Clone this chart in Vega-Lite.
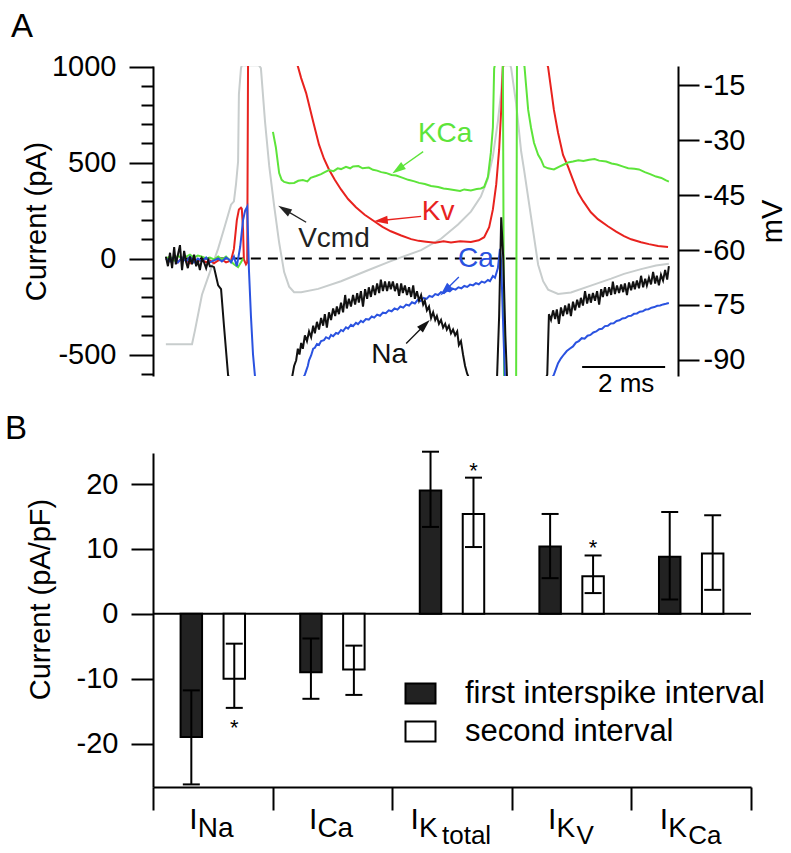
{
"$schema": "https://vega.github.io/schema/vega-lite/v6.json",
"padding": {"left": 5, "top": 10, "right": 5, "bottom": 5},
"bounds": "flush",
"spacing": 77,
"config": {
  "font": "Liberation Sans",
  "view": {"stroke": null},
  "axis": {"domainColor": "black", "domainWidth": 2, "tickColor": "black", "tickWidth": 2, "labelColor": "black", "titleColor": "black", "labelFontSize": 29, "titleFontSize": 29, "titleFontWeight": "normal", "grid": false, "labelOverlap": false, "labelFlush": false}
},
"datasets": {
  "tr": [
{"s":"Kv","g":1,"t":0.31,"v":0},{"s":"Kv","g":1,"t":0.41,"v":-15},{"s":"Kv","g":1,"t":0.51,"v":10},{"s":"Kv","g":1,"t":0.60,"v":-20},{"s":"Kv","g":1,"t":0.70,"v":5},{"s":"Kv","g":1,"t":0.80,"v":-10},{"s":"Kv","g":1,"t":0.89,"v":-25},{"s":"Kv","g":1,"t":0.99,"v":0},{"s":"Kv","g":1,"t":1.08,"v":-15},{"s":"Kv","g":1,"t":1.18,"v":-5},{"s":"Kv","g":1,"t":1.28,"v":-20},{"s":"Kv","g":1,"t":1.37,"v":-10},{"s":"Kv","g":1,"t":1.47,"v":-25},{"s":"Kv","g":1,"t":1.57,"v":-10},{"s":"Kv","g":1,"t":1.66,"v":-5},{"s":"Kv","g":1,"t":1.76,"v":-20},{"s":"Kv","g":1,"t":1.88,"v":-10},{"s":"Kv","g":1,"t":1.95,"v":50},{"s":"Kv","g":1,"t":2.02,"v":200},{"s":"Kv","g":1,"t":2.07,"v":255},{"s":"Kv","g":1,"t":2.12,"v":265},{"s":"Kv","g":1,"t":2.14,"v":260},{"s":"Kv","g":1,"t":2.17,"v":150},{"s":"Kv","g":1,"t":2.19,"v":-5},{"s":"Kv","g":1,"t":2.24,"v":-30},{"s":"Kv","g":1,"t":2.27,"v":-20},{"s":"Kv","g":1,"t":2.29,"v":1010},{"s":"Kv","g":1,"t":3.47,"v":1010},{"s":"Kv","g":1,"t":3.49,"v":1002},{"s":"Kv","g":1,"t":3.57,"v":940},{"s":"Kv","g":1,"t":3.69,"v":862},{"s":"Kv","g":1,"t":3.86,"v":712},{"s":"Kv","g":1,"t":4.00,"v":593},{"s":"Kv","g":1,"t":4.12,"v":520},{"s":"Kv","g":1,"t":4.24,"v":464},{"s":"Kv","g":1,"t":4.38,"v":410},{"s":"Kv","g":1,"t":4.53,"v":360},{"s":"Kv","g":1,"t":4.70,"v":310},{"s":"Kv","g":1,"t":4.89,"v":267},{"s":"Kv","g":1,"t":5.10,"v":228},{"s":"Kv","g":1,"t":5.33,"v":194},{"s":"Kv","g":1,"t":5.53,"v":165},{"s":"Kv","g":1,"t":5.73,"v":142},{"s":"Kv","g":1,"t":5.98,"v":120},{"s":"Kv","g":1,"t":6.22,"v":101},{"s":"Kv","g":1,"t":6.40,"v":92},{"s":"Kv","g":1,"t":6.58,"v":88},{"s":"Kv","g":1,"t":6.80,"v":82},{"s":"Kv","g":1,"t":7.00,"v":90},{"s":"Kv","g":1,"t":7.18,"v":84},{"s":"Kv","g":1,"t":7.40,"v":90},{"s":"Kv","g":1,"t":7.66,"v":86},{"s":"Kv","g":1,"t":7.85,"v":95},{"s":"Kv","g":1,"t":7.98,"v":111},{"s":"Kv","g":1,"t":8.10,"v":163},{"s":"Kv","g":1,"t":8.19,"v":256},{"s":"Kv","g":1,"t":8.27,"v":386},{"s":"Kv","g":1,"t":8.34,"v":567},{"s":"Kv","g":1,"t":8.39,"v":774},{"s":"Kv","g":1,"t":8.43,"v":1002},{"s":"Kv","g":1,"t":8.48,"v":1010},{"s":"Kv","g":1,"t":9.50,"v":1010},{"s":"Kv","g":1,"t":9.52,"v":997},{"s":"Kv","g":1,"t":9.66,"v":774},{"s":"Kv","g":1,"t":9.76,"v":655},{"s":"Kv","g":1,"t":9.88,"v":540},{"s":"Kv","g":1,"t":10.00,"v":479},{"s":"Kv","g":1,"t":10.12,"v":410},{"s":"Kv","g":1,"t":10.24,"v":344},{"s":"Kv","g":1,"t":10.36,"v":300},{"s":"Kv","g":1,"t":10.55,"v":241},{"s":"Kv","g":1,"t":10.72,"v":205},{"s":"Kv","g":1,"t":10.96,"v":168},{"s":"Kv","g":1,"t":11.16,"v":140},{"s":"Kv","g":1,"t":11.35,"v":117},{"s":"Kv","g":1,"t":11.52,"v":100},{"s":"Kv","g":1,"t":11.76,"v":85},{"s":"Kv","g":1,"t":11.95,"v":75},{"s":"Kv","g":1,"t":12.17,"v":65},{"s":"Kv","g":1,"t":12.41,"v":60},
{"s":"KCa","g":1,"t":0.31,"v":0},{"s":"KCa","g":1,"t":0.41,"v":10},{"s":"KCa","g":1,"t":0.51,"v":-10},{"s":"KCa","g":1,"t":0.60,"v":15},{"s":"KCa","g":1,"t":0.70,"v":0},{"s":"KCa","g":1,"t":0.80,"v":10},{"s":"KCa","g":1,"t":0.89,"v":20},{"s":"KCa","g":1,"t":0.99,"v":5},{"s":"KCa","g":1,"t":1.08,"v":15},{"s":"KCa","g":1,"t":1.18,"v":10},{"s":"KCa","g":1,"t":1.28,"v":0},{"s":"KCa","g":1,"t":1.37,"v":5},{"s":"KCa","g":1,"t":1.47,"v":-5},{"s":"KCa","g":1,"t":1.57,"v":10},{"s":"KCa","g":1,"t":1.66,"v":-5},{"s":"KCa","g":1,"t":1.76,"v":10},{"s":"KCa","g":1,"t":1.83,"v":-5},{"s":"KCa","g":1,"t":1.95,"v":-30},{"s":"KCa","g":1,"t":2.05,"v":-45},{"s":"KCa","g":1,"t":2.12,"v":-20},{"s":"KCa","g":1,"t":2.17,"v":0},
{"s":"KCa","g":2,"t":2.89,"v":660},{"s":"KCa","g":2,"t":2.96,"v":580},{"s":"KCa","g":2,"t":3.04,"v":445},{"s":"KCa","g":2,"t":3.10,"v":410},{"s":"KCa","g":2,"t":3.16,"v":399},{"s":"KCa","g":2,"t":3.28,"v":392},{"s":"KCa","g":2,"t":3.40,"v":394},{"s":"KCa","g":2,"t":3.50,"v":405},{"s":"KCa","g":2,"t":3.61,"v":409},{"s":"KCa","g":2,"t":3.72,"v":402},{"s":"KCa","g":2,"t":3.80,"v":420},{"s":"KCa","g":2,"t":3.93,"v":430},{"s":"KCa","g":2,"t":4.05,"v":440},{"s":"KCa","g":2,"t":4.14,"v":450},{"s":"KCa","g":2,"t":4.24,"v":461},{"s":"KCa","g":2,"t":4.35,"v":455},{"s":"KCa","g":2,"t":4.45,"v":470},{"s":"KCa","g":2,"t":4.53,"v":466},{"s":"KCa","g":2,"t":4.65,"v":478},{"s":"KCa","g":2,"t":4.75,"v":470},{"s":"KCa","g":2,"t":4.82,"v":480},{"s":"KCa","g":2,"t":4.95,"v":482},{"s":"KCa","g":2,"t":5.05,"v":470},{"s":"KCa","g":2,"t":5.20,"v":474},{"s":"KCa","g":2,"t":5.30,"v":462},{"s":"KCa","g":2,"t":5.40,"v":458},{"s":"KCa","g":2,"t":5.50,"v":450},{"s":"KCa","g":2,"t":5.61,"v":446},{"s":"KCa","g":2,"t":5.75,"v":435},{"s":"KCa","g":2,"t":5.86,"v":432},{"s":"KCa","g":2,"t":6.02,"v":420},{"s":"KCa","g":2,"t":6.15,"v":410},{"s":"KCa","g":2,"t":6.30,"v":402},{"s":"KCa","g":2,"t":6.41,"v":394},{"s":"KCa","g":2,"t":6.55,"v":388},{"s":"KCa","g":2,"t":6.70,"v":378},{"s":"KCa","g":2,"t":6.87,"v":373},{"s":"KCa","g":2,"t":7.00,"v":365},{"s":"KCa","g":2,"t":7.10,"v":362},{"s":"KCa","g":2,"t":7.25,"v":357},{"s":"KCa","g":2,"t":7.40,"v":352},{"s":"KCa","g":2,"t":7.50,"v":360},{"s":"KCa","g":2,"t":7.66,"v":355},{"s":"KCa","g":2,"t":7.80,"v":362},{"s":"KCa","g":2,"t":7.90,"v":365},{"s":"KCa","g":2,"t":7.98,"v":373},{"s":"KCa","g":2,"t":8.07,"v":425},{"s":"KCa","g":2,"t":8.14,"v":550},{"s":"KCa","g":2,"t":8.19,"v":684},{"s":"KCa","g":2,"t":8.22,"v":990},{"s":"KCa","g":2,"t":8.24,"v":1010},{"s":"KCa","g":2,"t":8.43,"v":1010},{"s":"KCa","g":2,"t":8.46,"v":-620},{"s":"KCa","g":2,"t":8.75,"v":-620},{"s":"KCa","g":2,"t":8.77,"v":1010},{"s":"KCa","g":2,"t":8.92,"v":1010},{"s":"KCa","g":2,"t":8.95,"v":1003},{"s":"KCa","g":2,"t":8.99,"v":900},{"s":"KCa","g":2,"t":9.04,"v":774},{"s":"KCa","g":2,"t":9.11,"v":680},{"s":"KCa","g":2,"t":9.18,"v":603},{"s":"KCa","g":2,"t":9.28,"v":540},{"s":"KCa","g":2,"t":9.35,"v":515},{"s":"KCa","g":2,"t":9.42,"v":479},{"s":"KCa","g":2,"t":9.52,"v":470},{"s":"KCa","g":2,"t":9.66,"v":464},{"s":"KCa","g":2,"t":9.78,"v":478},{"s":"KCa","g":2,"t":9.90,"v":490},{"s":"KCa","g":2,"t":10.00,"v":500},{"s":"KCa","g":2,"t":10.12,"v":505},{"s":"KCa","g":2,"t":10.25,"v":512},{"s":"KCa","g":2,"t":10.37,"v":508},{"s":"KCa","g":2,"t":10.51,"v":515},{"s":"KCa","g":2,"t":10.64,"v":518},{"s":"KCa","g":2,"t":10.75,"v":510},{"s":"KCa","g":2,"t":10.92,"v":505},{"s":"KCa","g":2,"t":11.05,"v":495},{"s":"KCa","g":2,"t":11.18,"v":490},{"s":"KCa","g":2,"t":11.33,"v":479},{"s":"KCa","g":2,"t":11.45,"v":470},{"s":"KCa","g":2,"t":11.60,"v":468},{"s":"KCa","g":2,"t":11.71,"v":464},{"s":"KCa","g":2,"t":11.85,"v":450},{"s":"KCa","g":2,"t":11.98,"v":440},{"s":"KCa","g":2,"t":12.12,"v":427},{"s":"KCa","g":2,"t":12.25,"v":420},{"s":"KCa","g":2,"t":12.35,"v":408},{"s":"KCa","g":2,"t":12.43,"v":401},
{"s":"Ca","g":1,"t":0.31,"v":0},{"s":"Ca","g":1,"t":0.41,"v":-15},{"s":"Ca","g":1,"t":0.51,"v":10},{"s":"Ca","g":1,"t":0.60,"v":-20},{"s":"Ca","g":1,"t":0.70,"v":5},{"s":"Ca","g":1,"t":0.80,"v":-15},{"s":"Ca","g":1,"t":0.89,"v":10},{"s":"Ca","g":1,"t":0.99,"v":-20},{"s":"Ca","g":1,"t":1.08,"v":0},{"s":"Ca","g":1,"t":1.18,"v":-15},{"s":"Ca","g":1,"t":1.28,"v":5},{"s":"Ca","g":1,"t":1.37,"v":-20},{"s":"Ca","g":1,"t":1.47,"v":-10},{"s":"Ca","g":1,"t":1.57,"v":0},{"s":"Ca","g":1,"t":1.66,"v":-15},{"s":"Ca","g":1,"t":1.76,"v":5},{"s":"Ca","g":1,"t":1.83,"v":-5},{"s":"Ca","g":1,"t":1.88,"v":-20},{"s":"Ca","g":1,"t":1.95,"v":10},{"s":"Ca","g":1,"t":2.02,"v":-40},{"s":"Ca","g":1,"t":2.10,"v":60},{"s":"Ca","g":1,"t":2.17,"v":200},{"s":"Ca","g":1,"t":2.22,"v":250},{"s":"Ca","g":1,"t":2.27,"v":270},{"s":"Ca","g":1,"t":2.29,"v":120},{"s":"Ca","g":1,"t":2.31,"v":-50},{"s":"Ca","g":1,"t":2.36,"v":-300},{"s":"Ca","g":1,"t":2.41,"v":-500},{"s":"Ca","g":1,"t":2.46,"v":-620},{"s":"Ca","g":1,"t":3.62,"v":-620},{"s":"Ca","g":1,"t":3.66,"v":-605},{"s":"Ca","g":1,"t":3.69,"v":-585},{"s":"Ca","g":1,"t":3.73,"v":-560},{"s":"Ca","g":1,"t":3.76,"v":-530},{"s":"Ca","g":1,"t":3.81,"v":-505},{"s":"Ca","g":1,"t":3.86,"v":-470},{"s":"Ca","g":1,"t":3.90,"v":-465},{"s":"Ca","g":1,"t":3.95,"v":-445},{"s":"Ca","g":1,"t":4.00,"v":-450},{"s":"Ca","g":1,"t":4.05,"v":-430},{"s":"Ca","g":1,"t":4.12,"v":-425},{"s":"Ca","g":1,"t":4.17,"v":-410},{"s":"Ca","g":1,"t":4.24,"v":-418},{"s":"Ca","g":1,"t":4.29,"v":-398},{"s":"Ca","g":1,"t":4.34,"v":-405},{"s":"Ca","g":1,"t":4.41,"v":-388},{"s":"Ca","g":1,"t":4.46,"v":-392},{"s":"Ca","g":1,"t":4.53,"v":-372},{"s":"Ca","g":1,"t":4.58,"v":-378},{"s":"Ca","g":1,"t":4.65,"v":-358},{"s":"Ca","g":1,"t":4.70,"v":-365},{"s":"Ca","g":1,"t":4.77,"v":-345},{"s":"Ca","g":1,"t":4.82,"v":-352},{"s":"Ca","g":1,"t":4.89,"v":-335},{"s":"Ca","g":1,"t":4.94,"v":-342},{"s":"Ca","g":1,"t":5.01,"v":-325},{"s":"Ca","g":1,"t":5.06,"v":-332},{"s":"Ca","g":1,"t":5.13,"v":-315},{"s":"Ca","g":1,"t":5.20,"v":-318},{"s":"Ca","g":1,"t":5.27,"v":-302},{"s":"Ca","g":1,"t":5.33,"v":-308},{"s":"Ca","g":1,"t":5.40,"v":-292},{"s":"Ca","g":1,"t":5.47,"v":-298},{"s":"Ca","g":1,"t":5.54,"v":-282},{"s":"Ca","g":1,"t":5.61,"v":-285},{"s":"Ca","g":1,"t":5.68,"v":-270},{"s":"Ca","g":1,"t":5.75,"v":-275},{"s":"Ca","g":1,"t":5.82,"v":-260},{"s":"Ca","g":1,"t":5.89,"v":-266},{"s":"Ca","g":1,"t":5.96,"v":-250},{"s":"Ca","g":1,"t":6.03,"v":-256},{"s":"Ca","g":1,"t":6.10,"v":-240},{"s":"Ca","g":1,"t":6.17,"v":-245},{"s":"Ca","g":1,"t":6.24,"v":-228},{"s":"Ca","g":1,"t":6.31,"v":-234},{"s":"Ca","g":1,"t":6.38,"v":-215},{"s":"Ca","g":1,"t":6.45,"v":-222},{"s":"Ca","g":1,"t":6.52,"v":-205},{"s":"Ca","g":1,"t":6.59,"v":-210},{"s":"Ca","g":1,"t":6.66,"v":-195},{"s":"Ca","g":1,"t":6.73,"v":-200},{"s":"Ca","g":1,"t":6.80,"v":-185},{"s":"Ca","g":1,"t":6.87,"v":-190},{"s":"Ca","g":1,"t":6.94,"v":-175},{"s":"Ca","g":1,"t":7.01,"v":-180},{"s":"Ca","g":1,"t":7.08,"v":-165},{"s":"Ca","g":1,"t":7.15,"v":-171},{"s":"Ca","g":1,"t":7.22,"v":-157},{"s":"Ca","g":1,"t":7.29,"v":-162},{"s":"Ca","g":1,"t":7.36,"v":-150},{"s":"Ca","g":1,"t":7.43,"v":-155},{"s":"Ca","g":1,"t":7.50,"v":-143},{"s":"Ca","g":1,"t":7.57,"v":-148},{"s":"Ca","g":1,"t":7.64,"v":-136},{"s":"Ca","g":1,"t":7.71,"v":-140},{"s":"Ca","g":1,"t":7.78,"v":-128},{"s":"Ca","g":1,"t":7.85,"v":-134},{"s":"Ca","g":1,"t":7.92,"v":-120},{"s":"Ca","g":1,"t":7.99,"v":-126},{"s":"Ca","g":1,"t":8.07,"v":-112},{"s":"Ca","g":1,"t":8.12,"v":-118},{"s":"Ca","g":1,"t":8.19,"v":-91},{"s":"Ca","g":1,"t":8.24,"v":-100},{"s":"Ca","g":1,"t":8.31,"v":-50},{"s":"Ca","g":1,"t":8.36,"v":50},{"s":"Ca","g":1,"t":8.39,"v":-20},{"s":"Ca","g":1,"t":8.43,"v":-300},{"s":"Ca","g":1,"t":8.48,"v":-620},{"s":"Ca","g":1,"t":9.62,"v":-620},{"s":"Ca","g":1,"t":9.66,"v":-605},{"s":"Ca","g":1,"t":9.71,"v":-575},{"s":"Ca","g":1,"t":9.76,"v":-545},{"s":"Ca","g":1,"t":9.83,"v":-520},{"s":"Ca","g":1,"t":9.90,"v":-500},{"s":"Ca","g":1,"t":9.97,"v":-482},{"s":"Ca","g":1,"t":10.04,"v":-470},{"s":"Ca","g":1,"t":10.12,"v":-458},{"s":"Ca","g":1,"t":10.19,"v":-438},{"s":"Ca","g":1,"t":10.26,"v":-430},{"s":"Ca","g":1,"t":10.33,"v":-415},{"s":"Ca","g":1,"t":10.40,"v":-418},{"s":"Ca","g":1,"t":10.47,"v":-402},{"s":"Ca","g":1,"t":10.54,"v":-398},{"s":"Ca","g":1,"t":10.61,"v":-385},{"s":"Ca","g":1,"t":10.68,"v":-380},{"s":"Ca","g":1,"t":10.75,"v":-368},{"s":"Ca","g":1,"t":10.82,"v":-366},{"s":"Ca","g":1,"t":10.89,"v":-352},{"s":"Ca","g":1,"t":10.96,"v":-350},{"s":"Ca","g":1,"t":11.03,"v":-338},{"s":"Ca","g":1,"t":11.10,"v":-337},{"s":"Ca","g":1,"t":11.17,"v":-325},{"s":"Ca","g":1,"t":11.24,"v":-322},{"s":"Ca","g":1,"t":11.31,"v":-312},{"s":"Ca","g":1,"t":11.38,"v":-310},{"s":"Ca","g":1,"t":11.45,"v":-300},{"s":"Ca","g":1,"t":11.52,"v":-298},{"s":"Ca","g":1,"t":11.59,"v":-288},{"s":"Ca","g":1,"t":11.66,"v":-286},{"s":"Ca","g":1,"t":11.73,"v":-277},{"s":"Ca","g":1,"t":11.80,"v":-275},{"s":"Ca","g":1,"t":11.87,"v":-266},{"s":"Ca","g":1,"t":11.94,"v":-264},{"s":"Ca","g":1,"t":12.01,"v":-256},{"s":"Ca","g":1,"t":12.08,"v":-253},{"s":"Ca","g":1,"t":12.15,"v":-246},{"s":"Ca","g":1,"t":12.22,"v":-245},{"s":"Ca","g":1,"t":12.29,"v":-239},{"s":"Ca","g":1,"t":12.36,"v":-236},{"s":"Ca","g":1,"t":12.43,"v":-232},
{"s":"Na","g":1,"t":0.31,"v":10},{"s":"Na","g":1,"t":0.36,"v":-40},{"s":"Na","g":1,"t":0.41,"v":30},{"s":"Na","g":1,"t":0.46,"v":-50},{"s":"Na","g":1,"t":0.51,"v":60},{"s":"Na","g":1,"t":0.55,"v":-30},{"s":"Na","g":1,"t":0.60,"v":20},{"s":"Na","g":1,"t":0.65,"v":70},{"s":"Na","g":1,"t":0.70,"v":-60},{"s":"Na","g":1,"t":0.75,"v":40},{"s":"Na","g":1,"t":0.80,"v":-20},{"s":"Na","g":1,"t":0.84,"v":-50},{"s":"Na","g":1,"t":0.89,"v":10},{"s":"Na","g":1,"t":0.94,"v":-30},{"s":"Na","g":1,"t":0.99,"v":20},{"s":"Na","g":1,"t":1.04,"v":-40},{"s":"Na","g":1,"t":1.08,"v":-10},{"s":"Na","g":1,"t":1.13,"v":-60},{"s":"Na","g":1,"t":1.18,"v":0},{"s":"Na","g":1,"t":1.23,"v":-20},{"s":"Na","g":1,"t":1.28,"v":-50},{"s":"Na","g":1,"t":1.33,"v":-10},{"s":"Na","g":1,"t":1.37,"v":-40},{"s":"Na","g":1,"t":1.42,"v":-40},{"s":"Na","g":1,"t":1.47,"v":-45},{"s":"Na","g":1,"t":1.57,"v":-140},{"s":"Na","g":1,"t":1.64,"v":-160},{"s":"Na","g":1,"t":1.71,"v":-350},{"s":"Na","g":1,"t":1.81,"v":-610},{"s":"Na","g":1,"t":1.85,"v":-620},
{"s":"Na","g":1,"t":3.35,"v":-620},{"s":"Na","g":1,"t":3.40,"v":-560},{"s":"Na","g":1,"t":3.45,"v":-530},{"s":"Na","g":1,"t":3.49,"v":-470},{"s":"Na","g":1,"t":3.53,"v":-500},{"s":"Na","g":1,"t":3.57,"v":-440},{"s":"Na","g":1,"t":3.61,"v":-470},{"s":"Na","g":1,"t":3.66,"v":-400},{"s":"Na","g":1,"t":3.71,"v":-430},{"s":"Na","g":1,"t":3.76,"v":-380},{"s":"Na","g":1,"t":3.81,"v":-410},{"s":"Na","g":1,"t":3.86,"v":-350},{"s":"Na","g":1,"t":3.90,"v":-390},{"s":"Na","g":1,"t":3.95,"v":-330},{"s":"Na","g":1,"t":4.00,"v":-370},{"s":"Na","g":1,"t":4.05,"v":-310},{"s":"Na","g":1,"t":4.10,"v":-350},{"s":"Na","g":1,"t":4.14,"v":-290},{"s":"Na","g":1,"t":4.19,"v":-360},{"s":"Na","g":1,"t":4.24,"v":-280},{"s":"Na","g":1,"t":4.29,"v":-320},{"s":"Na","g":1,"t":4.34,"v":-260},{"s":"Na","g":1,"t":4.39,"v":-300},{"s":"Na","g":1,"t":4.43,"v":-250},{"s":"Na","g":1,"t":4.48,"v":-290},{"s":"Na","g":1,"t":4.53,"v":-230},{"s":"Na","g":1,"t":4.58,"v":-280},{"s":"Na","g":1,"t":4.63,"v":-190},{"s":"Na","g":1,"t":4.67,"v":-260},{"s":"Na","g":1,"t":4.72,"v":-210},{"s":"Na","g":1,"t":4.77,"v":-250},{"s":"Na","g":1,"t":4.82,"v":-190},{"s":"Na","g":1,"t":4.87,"v":-240},{"s":"Na","g":1,"t":4.92,"v":-180},{"s":"Na","g":1,"t":4.96,"v":-230},{"s":"Na","g":1,"t":5.01,"v":-170},{"s":"Na","g":1,"t":5.06,"v":-250},{"s":"Na","g":1,"t":5.11,"v":-160},{"s":"Na","g":1,"t":5.16,"v":-210},{"s":"Na","g":1,"t":5.20,"v":-150},{"s":"Na","g":1,"t":5.25,"v":-200},{"s":"Na","g":1,"t":5.30,"v":-140},{"s":"Na","g":1,"t":5.35,"v":-190},{"s":"Na","g":1,"t":5.40,"v":-130},{"s":"Na","g":1,"t":5.45,"v":-180},{"s":"Na","g":1,"t":5.49,"v":-110},{"s":"Na","g":1,"t":5.54,"v":-170},{"s":"Na","g":1,"t":5.59,"v":-120},{"s":"Na","g":1,"t":5.64,"v":-170},{"s":"Na","g":1,"t":5.69,"v":-120},{"s":"Na","g":1,"t":5.73,"v":-160},{"s":"Na","g":1,"t":5.78,"v":-120},{"s":"Na","g":1,"t":5.83,"v":-170},{"s":"Na","g":1,"t":5.88,"v":-130},{"s":"Na","g":1,"t":5.93,"v":-195},{"s":"Na","g":1,"t":5.98,"v":-130},{"s":"Na","g":1,"t":6.02,"v":-180},{"s":"Na","g":1,"t":6.07,"v":-140},{"s":"Na","g":1,"t":6.12,"v":-190},{"s":"Na","g":1,"t":6.17,"v":-150},{"s":"Na","g":1,"t":6.22,"v":-200},{"s":"Na","g":1,"t":6.27,"v":-140},{"s":"Na","g":1,"t":6.31,"v":-210},{"s":"Na","g":1,"t":6.36,"v":-170},{"s":"Na","g":1,"t":6.41,"v":-220},{"s":"Na","g":1,"t":6.46,"v":-190},{"s":"Na","g":1,"t":6.51,"v":-240},{"s":"Na","g":1,"t":6.55,"v":-220},{"s":"Na","g":1,"t":6.60,"v":-270},{"s":"Na","g":1,"t":6.65,"v":-250},{"s":"Na","g":1,"t":6.70,"v":-310},{"s":"Na","g":1,"t":6.75,"v":-280},{"s":"Na","g":1,"t":6.80,"v":-320},{"s":"Na","g":1,"t":6.84,"v":-300},{"s":"Na","g":1,"t":6.89,"v":-340},{"s":"Na","g":1,"t":6.94,"v":-320},{"s":"Na","g":1,"t":6.99,"v":-360},{"s":"Na","g":1,"t":7.04,"v":-340},{"s":"Na","g":1,"t":7.08,"v":-370},{"s":"Na","g":1,"t":7.13,"v":-350},{"s":"Na","g":1,"t":7.18,"v":-390},{"s":"Na","g":1,"t":7.23,"v":-370},{"s":"Na","g":1,"t":7.28,"v":-400},{"s":"Na","g":1,"t":7.33,"v":-380},{"s":"Na","g":1,"t":7.37,"v":-450},{"s":"Na","g":1,"t":7.42,"v":-430},{"s":"Na","g":1,"t":7.47,"v":-500},{"s":"Na","g":1,"t":7.52,"v":-560},{"s":"Na","g":1,"t":7.57,"v":-600},{"s":"Na","g":1,"t":7.61,"v":-620},
{"s":"Na","g":1,"t":8.29,"v":-620},{"s":"Na","g":1,"t":8.34,"v":-300},{"s":"Na","g":1,"t":8.39,"v":215},{"s":"Na","g":1,"t":8.44,"v":0},{"s":"Na","g":1,"t":8.49,"v":-400},{"s":"Na","g":1,"t":8.53,"v":-620},
{"s":"Na","g":1,"t":9.47,"v":-620},{"s":"Na","g":1,"t":9.50,"v":-605},{"s":"Na","g":1,"t":9.54,"v":-290},{"s":"Na","g":1,"t":9.59,"v":-320},{"s":"Na","g":1,"t":9.64,"v":-270},{"s":"Na","g":1,"t":9.69,"v":-315},{"s":"Na","g":1,"t":9.73,"v":-265},{"s":"Na","g":1,"t":9.78,"v":-340},{"s":"Na","g":1,"t":9.83,"v":-255},{"s":"Na","g":1,"t":9.88,"v":-300},{"s":"Na","g":1,"t":9.93,"v":-245},{"s":"Na","g":1,"t":9.98,"v":-290},{"s":"Na","g":1,"t":10.02,"v":-235},{"s":"Na","g":1,"t":10.07,"v":-300},{"s":"Na","g":1,"t":10.12,"v":-225},{"s":"Na","g":1,"t":10.17,"v":-270},{"s":"Na","g":1,"t":10.22,"v":-215},{"s":"Na","g":1,"t":10.27,"v":-255},{"s":"Na","g":1,"t":10.31,"v":-205},{"s":"Na","g":1,"t":10.36,"v":-245},{"s":"Na","g":1,"t":10.41,"v":-170},{"s":"Na","g":1,"t":10.46,"v":-235},{"s":"Na","g":1,"t":10.51,"v":-185},{"s":"Na","g":1,"t":10.55,"v":-230},{"s":"Na","g":1,"t":10.60,"v":-180},{"s":"Na","g":1,"t":10.65,"v":-220},{"s":"Na","g":1,"t":10.70,"v":-170},{"s":"Na","g":1,"t":10.75,"v":-240},{"s":"Na","g":1,"t":10.80,"v":-160},{"s":"Na","g":1,"t":10.84,"v":-200},{"s":"Na","g":1,"t":10.89,"v":-150},{"s":"Na","g":1,"t":10.94,"v":-195},{"s":"Na","g":1,"t":10.99,"v":-150},{"s":"Na","g":1,"t":11.04,"v":-190},{"s":"Na","g":1,"t":11.08,"v":-120},{"s":"Na","g":1,"t":11.13,"v":-185},{"s":"Na","g":1,"t":11.18,"v":-140},{"s":"Na","g":1,"t":11.23,"v":-180},{"s":"Na","g":1,"t":11.28,"v":-135},{"s":"Na","g":1,"t":11.33,"v":-175},{"s":"Na","g":1,"t":11.37,"v":-130},{"s":"Na","g":1,"t":11.42,"v":-190},{"s":"Na","g":1,"t":11.47,"v":-125},{"s":"Na","g":1,"t":11.52,"v":-165},{"s":"Na","g":1,"t":11.57,"v":-120},{"s":"Na","g":1,"t":11.61,"v":-160},{"s":"Na","g":1,"t":11.66,"v":-115},{"s":"Na","g":1,"t":11.71,"v":-155},{"s":"Na","g":1,"t":11.76,"v":-90},{"s":"Na","g":1,"t":11.81,"v":-150},{"s":"Na","g":1,"t":11.86,"v":-105},{"s":"Na","g":1,"t":11.90,"v":-140},{"s":"Na","g":1,"t":11.95,"v":-100},{"s":"Na","g":1,"t":12.00,"v":-135},{"s":"Na","g":1,"t":12.05,"v":-70},{"s":"Na","g":1,"t":12.10,"v":-130},{"s":"Na","g":1,"t":12.14,"v":-90},{"s":"Na","g":1,"t":12.19,"v":-140},{"s":"Na","g":1,"t":12.24,"v":-85},{"s":"Na","g":1,"t":12.29,"v":-115},{"s":"Na","g":1,"t":12.34,"v":-60},{"s":"Na","g":1,"t":12.39,"v":-110},{"s":"Na","g":1,"t":12.43,"v":-40}
  ],
  "vcmd": [
{"t":0.31,"mv":-85.7},{"t":0.94,"mv":-85.7},{"t":1.01,"mv":-82},{"t":1.18,"mv":-72.2},{"t":1.37,"mv":-66},{"t":1.57,"mv":-59.6},{"t":1.73,"mv":-53.5},{"t":1.88,"mv":-47.6},{"t":1.95,"mv":-46.7},{"t":2.00,"mv":-42},{"t":2.05,"mv":-35.8},{"t":2.07,"mv":-17.4},{"t":2.12,"mv":-10.3},{"t":2.14,"mv":-9.5},{"t":2.55,"mv":-9.5},{"t":2.60,"mv":-10.3},{"t":2.70,"mv":-25},{"t":2.80,"mv":-37},{"t":2.92,"mv":-48},{"t":3.04,"mv":-58},{"t":3.16,"mv":-66},{"t":3.28,"mv":-70},{"t":3.40,"mv":-71.5},{"t":3.57,"mv":-71.5},{"t":3.98,"mv":-70.6},{"t":4.53,"mv":-68.5},{"t":5.18,"mv":-65.5},{"t":5.73,"mv":-63},{"t":6.46,"mv":-60},{"t":6.94,"mv":-56.9},{"t":7.35,"mv":-53},{"t":7.66,"mv":-49.5},{"t":7.90,"mv":-45.4},{"t":8.07,"mv":-40.4},{"t":8.19,"mv":-34.4},{"t":8.31,"mv":-24.8},{"t":8.39,"mv":-16.6},{"t":8.43,"mv":-10},{"t":8.45,"mv":-9.5},{"t":8.61,"mv":-9.5},{"t":8.63,"mv":-10.3},{"t":8.75,"mv":-20},{"t":8.87,"mv":-33},{"t":8.94,"mv":-38},{"t":9.11,"mv":-51},{"t":9.28,"mv":-64},{"t":9.40,"mv":-68.5},{"t":9.52,"mv":-70.8},{"t":9.76,"mv":-72},{"t":10.07,"mv":-71.6},{"t":10.55,"mv":-69.7},{"t":11.04,"mv":-67.8},{"t":11.35,"mv":-66.5},{"t":11.76,"mv":-65.2},{"t":12.12,"mv":-64.2},{"t":12.43,"mv":-63.7}
  ],
  "arr": [
{"lab":"KCa","t1":6.51,"v1":557,"th":5.90,"vh":464,"ang":235},
{"lab":"Kv","t1":6.46,"v1":220,"th":5.49,"vh":198,"ang":264},
{"lab":"Vcmd","t1":3.69,"v1":189,"th":3.16,"vh":256,"ang":301},
{"lab":"Ca","t1":7.37,"v1":-96,"th":7.04,"vh":-167,"ang":225},
{"lab":"Na","t1":6.10,"v1":-443,"th":6.55,"vh":-345,"ang":45}
  ],
  "lbl": [
{"lab":"KCa","t":7.04,"v":650},{"lab":"Kv","t":6.87,"v":241},{"lab":"Vcmd","t":4.36,"v":101},{"lab":"Ca","t":7.78,"v":-3},{"lab":"Na","t":5.69,"v":-505}
  ],
  "bars": [
{"cat":"INa","grp":"first interspike interval","m":-19.0,"lo":-26.3,"hi":-11.8,"sig":0},
{"cat":"INa","grp":"second interval","m":-10.0,"lo":-14.5,"hi":-4.6,"sig":1},
{"cat":"ICa","grp":"first interspike interval","m":-9.0,"lo":-13.1,"hi":-3.8,"sig":0},
{"cat":"ICa","grp":"second interval","m":-8.6,"lo":-12.5,"hi":-4.9,"sig":0},
{"cat":"IKtotal","grp":"first interspike interval","m":19.0,"lo":13.4,"hi":25.0,"sig":0},
{"cat":"IKtotal","grp":"second interval","m":15.4,"lo":10.3,"hi":21.0,"sig":1},
{"cat":"IKV","grp":"first interspike interval","m":10.4,"lo":5.5,"hi":15.4,"sig":0},
{"cat":"IKV","grp":"second interval","m":5.8,"lo":3.2,"hi":9.0,"sig":1},
{"cat":"IKCa","grp":"first interspike interval","m":8.8,"lo":2.2,"hi":15.7,"sig":0},
{"cat":"IKCa","grp":"second interval","m":9.3,"lo":3.7,"hi":15.2,"sig":0}
  ],
  "labs": [
{"cat":"INa","s1":"Na","s2":""},{"cat":"ICa","s1":"Ca","s2":""},{"cat":"IKtotal","s1":"K","s2":"total"},{"cat":"IKV","s1":"K","s2":"V"},{"cat":"IKCa","s1":"K","s2":"Ca"}
  ]
},
"vconcat": [
{
  "width": 525, "height": 310,
  "title": {"text": "A", "anchor": "start", "frame": "group", "dx": -142, "offset": -17, "fontSize": 33, "fontWeight": "normal", "baseline": "alphabetic", "color": "black"},
  "layer": [
    {
      "data": {"name": "vcmd"},
      "mark": {"type": "line", "color": "#c8cdcd", "strokeWidth": 2, "clip": true},
      "encoding": {
        "x": {"field": "t", "type": "quantitative", "scale": {"domain": [0, 12.65], "nice": false, "zero": false}, "axis": null},
        "y": {"field": "mv", "type": "quantitative", "scale": {"domain": [-94.4, -9.7], "nice": false, "zero": false},
              "axis": {"orient": "right", "values": [-90, -75, -60, -45, -30, -15], "tickCount": 20, "labelExpr": "replace(datum.label, '\u2212', '-')", "tickSize": 21, "labelPadding": 4, "title": "mV", "titleAngle": 270, "titleBaseline": "top", "titlePadding": 14}}
      }
    },
    {
      "layer": [
        {
          "data": {"values": [{}]},
          "mark": {"type": "rule", "strokeDash": [10, 7], "strokeWidth": 2, "color": "black"},
          "encoding": {
            "x": {"datum": 0.31, "type": "quantitative"},
            "x2": {"datum": 12.43},
            "y": {"datum": 0, "type": "quantitative", "scale": {"domain": [-612, 1003], "nice": false, "zero": false},
                  "axis": {"orient": "left", "values": [-600,-500,-400,-300,-200,-100,0,100,200,300,400,500,600,700,800,900,1000], "tickCount": 40, "format": "d",
                           "labelOverlap": false,
                           "labelExpr": "datum.value % 500 === 0 ? replace(datum.label, '\u2212', '-') : ''",
                           "tickSize": {"condition": {"test": "datum.value % 500 === 0", "value": 24}, "value": 12},
                           "labelPadding": 13, "title": "Current (pA)", "titlePadding": 0}}
          }
        },
        {
          "data": {"name": "tr"},
          "mark": {"type": "line", "strokeWidth": 2, "clip": true},
          "encoding": {
            "x": {"field": "t", "type": "quantitative"},
            "y": {"field": "v", "type": "quantitative"},
            "color": {"field": "s", "type": "nominal", "scale": {"domain": ["Na", "Ca", "Kv", "KCa", "Vcmd"], "range": ["#111111", "#2a52e0", "#e8221e", "#5de43a", "#222222"]}, "legend": null},
            "detail": {"field": "g"}
          }
        },
        {
          "data": {"name": "arr"},
          "mark": {"type": "rule", "strokeWidth": 1.3},
          "encoding": {
            "x": {"field": "t1", "type": "quantitative"},
            "y": {"field": "v1", "type": "quantitative"},
            "x2": {"field": "th"},
            "y2": {"field": "vh"},
            "color": {"field": "lab", "type": "nominal", "legend": null}
          }
        },
        {
          "data": {"name": "arr"},
          "mark": {"type": "point", "shape": "M0,-1L0.6,1L-0.6,1Z", "filled": true, "opacity": 1, "size": 190},
          "encoding": {
            "x": {"field": "th", "type": "quantitative"},
            "y": {"field": "vh", "type": "quantitative"},
            "angle": {"field": "ang", "type": "quantitative", "scale": null},
            "color": {"field": "lab", "type": "nominal", "legend": null}
          }
        },
        {
          "data": {"name": "lbl"},
          "mark": {"type": "text", "fontSize": 28, "align": "center", "baseline": "middle"},
          "encoding": {
            "x": {"field": "t", "type": "quantitative"},
            "y": {"field": "v", "type": "quantitative"},
            "text": {"field": "lab"},
            "color": {"field": "lab", "type": "nominal", "legend": null}
          }
        },
        {
          "data": {"values": [{}]},
          "mark": {"type": "rule", "strokeWidth": 2, "color": "black"},
          "encoding": {
            "x": {"datum": 10.34, "type": "quantitative"},
            "x2": {"datum": 12.34},
            "y": {"datum": -565, "type": "quantitative"}
          }
        },
        {
          "data": {"values": [{}]},
          "mark": {"type": "text", "fontSize": 26, "align": "center", "baseline": "alphabetic", "color": "black", "text": "2 ms"},
          "encoding": {
            "x": {"datum": 11.40, "type": "quantitative"},
            "y": {"datum": -696, "type": "quantitative"}
          }
        }
      ]
    }
  ],
  "resolve": {"scale": {"y": "independent"}}
},
{
  "width": 598, "height": 334,
  "title": {"text": "B", "anchor": "start", "frame": "group", "dx": -148, "offset": -21, "fontSize": 33, "fontWeight": "normal", "baseline": "alphabetic", "color": "black"},
  "layer": [
    {
      "data": {"values": [{}]},
      "mark": {"type": "rule", "strokeWidth": 2, "color": "black"},
      "encoding": {"y": {"datum": 0, "type": "quantitative"}}
    },
    {
      "data": {"name": "bars"},
      "mark": {"type": "bar", "stroke": "black", "strokeWidth": 2},
      "encoding": {
        "x": {"field": "cat", "type": "nominal", "scale": {"domain": ["INa", "ICa", "IKtotal", "IKV", "IKCa"], "paddingInner": 0, "paddingOuter": 0},
              "axis": {"labels": false, "title": null, "tickBand": "extent", "tickSize": 23, "orient": "bottom"}},
        "xOffset": {"field": "grp", "type": "nominal", "scale": {"domain": ["first interspike interval", "second interval"], "paddingInner": 0.5, "paddingOuter": 0.642}},
        "y": {"field": "m", "type": "quantitative", "scale": {"domain": [-26.7, 24.8], "nice": false, "zero": false},
              "axis": {"values": [-20, -10, 0, 10, 20], "tickCount": 20, "labelExpr": "replace(datum.label, '\u2212', '-')", "tickSize": 22, "labelPadding": 13, "title": "Current (pA/pF)", "titlePadding": 21, "titleY": 146}},
        "fill": {"field": "grp", "type": "nominal", "scale": {"domain": ["first interspike interval", "second interval"], "range": ["#222222", "#ffffff"]},
                 "legend": {"orient": "none", "legendX": 252, "legendY": 612, "title": null, "symbolType": "M-1.5,-1H1.5V1H-1.5Z", "symbolSize": 400, "symbolStrokeWidth": 2, "symbolStrokeColor": "black", "labelFontSize": 31, "labelOffset": 29, "rowPadding": 6, "padding": 0, "labelColor": "black", "labelLimit": 400}}
      }
    },
    {
      "data": {"name": "bars"},
      "mark": {"type": "rule", "strokeWidth": 2, "color": "black"},
      "encoding": {
        "x": {"field": "cat", "type": "nominal"},
        "xOffset": {"field": "grp", "type": "nominal"},
        "y": {"field": "lo", "type": "quantitative"},
        "y2": {"field": "hi"}
      }
    },
    {
      "data": {"name": "bars"},
      "mark": {"type": "tick", "thickness": 2, "size": 17, "color": "black", "opacity": 1},
      "encoding": {
        "x": {"field": "cat", "type": "nominal"},
        "xOffset": {"field": "grp", "type": "nominal"},
        "y": {"field": "lo", "type": "quantitative"}
      }
    },
    {
      "data": {"name": "bars"},
      "mark": {"type": "tick", "thickness": 2, "size": 17, "color": "black", "opacity": 1},
      "encoding": {
        "x": {"field": "cat", "type": "nominal"},
        "xOffset": {"field": "grp", "type": "nominal"},
        "y": {"field": "hi", "type": "quantitative"}
      }
    },
    {
      "data": {"name": "bars"},
      "transform": [{"filter": "datum.sig == 1 && datum.m > 0"}],
      "mark": {"type": "text", "fontSize": 22, "align": "center", "baseline": "alphabetic", "dy": 0, "text": "*", "color": "black"},
      "encoding": {
        "x": {"field": "cat", "type": "nominal"},
        "xOffset": {"field": "grp", "type": "nominal"},
        "y": {"field": "hi", "type": "quantitative"}
      }
    },
    {
      "data": {"name": "bars"},
      "transform": [{"filter": "datum.sig == 1 && datum.m < 0"}],
      "mark": {"type": "text", "fontSize": 22, "align": "center", "baseline": "alphabetic", "dy": 27, "text": "*", "color": "black"},
      "encoding": {
        "x": {"field": "cat", "type": "nominal"},
        "xOffset": {"field": "grp", "type": "nominal"},
        "y": {"field": "lo", "type": "quantitative"}
      }
    },
    {
      "data": {"name": "labs"},
      "transform": [{"filter": "datum.cat == 'INa' || datum.cat == 'ICa' || datum.cat == 'IKV'"}],
      "layer": [
        {"mark": {"type": "text", "fontSize": 30, "align": "left", "baseline": "alphabetic", "dx": -23.5, "text": "I", "color": "black"},
         "encoding": {"x": {"field": "cat", "type": "nominal"}, "y": {"datum": -33.2, "type": "quantitative"}}},
        {"mark": {"type": "text", "fontSize": 28, "align": "left", "baseline": "alphabetic", "dx": -15, "color": "black"},
         "encoding": {"x": {"field": "cat", "type": "nominal"}, "y": {"datum": -34.4, "type": "quantitative"}, "text": {"field": "s1"}}}
      ]
    },
    {
      "data": {"name": "labs"},
      "transform": [{"filter": "datum.cat == 'IKtotal'"}],
      "layer": [
        {"mark": {"type": "text", "fontSize": 30, "align": "left", "baseline": "alphabetic", "dx": -41.5, "text": "I", "color": "black"},
         "encoding": {"x": {"field": "cat", "type": "nominal"}, "y": {"datum": -33.2, "type": "quantitative"}}},
        {"mark": {"type": "text", "fontSize": 28, "align": "left", "baseline": "alphabetic", "dx": -33, "color": "black"},
         "encoding": {"x": {"field": "cat", "type": "nominal"}, "y": {"datum": -34.4, "type": "quantitative"}, "text": {"field": "s1"}}},
        {"mark": {"type": "text", "fontSize": 26, "align": "left", "baseline": "alphabetic", "dx": -10, "color": "black"},
         "encoding": {"x": {"field": "cat", "type": "nominal"}, "y": {"datum": -35.5, "type": "quantitative"}, "text": {"field": "s2"}}}
      ]
    },
    {
      "data": {"name": "labs"},
      "transform": [{"filter": "datum.cat == 'IKV'"}],
      "mark": {"type": "text", "fontSize": 26, "align": "left", "baseline": "alphabetic", "dx": 5, "color": "black"},
      "encoding": {"x": {"field": "cat", "type": "nominal"}, "y": {"datum": -35.5, "type": "quantitative"}, "text": {"field": "s2"}}
    },
    {
      "data": {"name": "labs"},
      "transform": [{"filter": "datum.cat == 'IKCa'"}],
      "layer": [
        {"mark": {"type": "text", "fontSize": 30, "align": "left", "baseline": "alphabetic", "dx": -31.5, "text": "I", "color": "black"},
         "encoding": {"x": {"field": "cat", "type": "nominal"}, "y": {"datum": -33.2, "type": "quantitative"}}},
        {"mark": {"type": "text", "fontSize": 28, "align": "left", "baseline": "alphabetic", "dx": -23, "color": "black"},
         "encoding": {"x": {"field": "cat", "type": "nominal"}, "y": {"datum": -34.4, "type": "quantitative"}, "text": {"field": "s1"}}},
        {"mark": {"type": "text", "fontSize": 26, "align": "left", "baseline": "alphabetic", "dx": -3, "color": "black"},
         "encoding": {"x": {"field": "cat", "type": "nominal"}, "y": {"datum": -35.5, "type": "quantitative"}, "text": {"field": "s2"}}}
      ]
    }
  ]
}
]
}
